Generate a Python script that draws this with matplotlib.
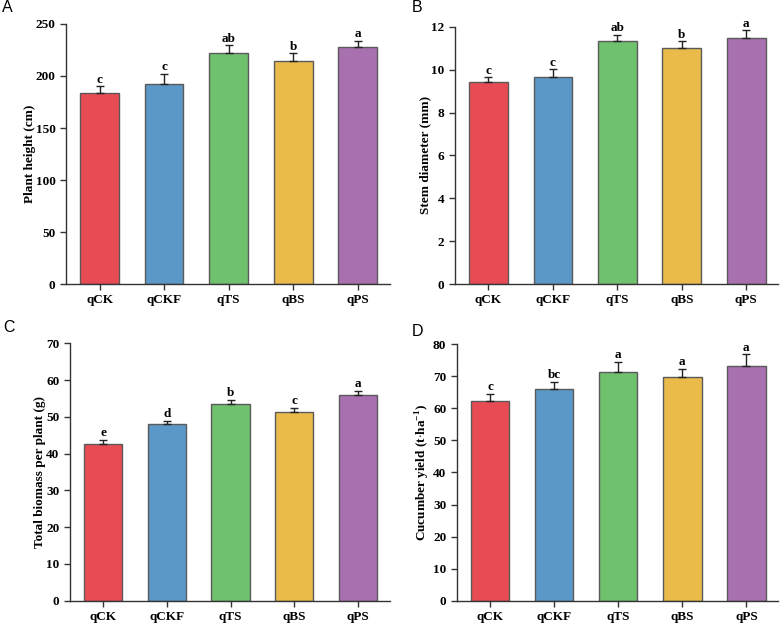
import numpy as np
import matplotlib.pyplot as plt

plt.rcParams['font.family'] = ['Liberation Serif', 'DejaVu Serif']
plt.rcParams['mathtext.fontset'] = 'custom'
plt.rcParams['mathtext.rm'] = 'Liberation Serif:bold'
plt.rcParams['mathtext.bf'] = 'Liberation Serif:bold'

groups = ['qCK', 'qCKF', 'qTS', 'qBS', 'qPS']
colors = ['#E84B53', '#5B98C7', '#70C16E', '#EABB4A', '#A970B0']

height = [184, 192.5, 222, 214, 227.5]
height_err = [6, 9.5, 7.5, 8, 6.5]
height_sig = ['c', 'c', 'ab', 'b', 'a']

stem = [9.44, 9.65, 11.32, 10.99, 11.5]
stem_err = [0.2, 0.36, 0.32, 0.33, 0.33]
stem_sig = ['c', 'c', 'ab', 'b', 'a']

biomass = [42.5, 48.0, 53.4, 51.2, 56.0]
biomass_err = [1.3, 1.0, 1.3, 1.2, 1.1]
biomass_sig = ['e', 'd', 'b', 'c', 'a']

yield_ = [62.3, 65.9, 71.5, 69.7, 73.2]
yield_err = [2.2, 2.4, 3.1, 2.6, 3.7]
yield_sig = ['c', 'bc', 'a', 'a', 'a']

panels = [
    ('A', height, height_err, height_sig, 'Plant height (cm)', 250, 50,
     [0.0846, 0.5441, 0.4154, 0.4174], (2, 8), 0),
    ('B', stem, stem_err, stem_sig, 'Stem diameter (mm)', 12, 2,
     [0.5833, 0.5441, 0.4147, 0.4129], (412, 7), 0),
    ('C', biomass, biomass_err, biomass_sig, 'Total biomass per plant (g)', 70, 10,
     [0.0897, 0.0358, 0.4103, 0.4132], (3, 327), 0),
    ('D', yield_, yield_err, yield_sig,
     r'Cucumber yield (t$\mathbf{\cdot}$ha$^{\mathbf{-1}}$)', 80, 10,
     [0.5855, 0.0358, 0.4125, 0.4116], (412, 331), 0.5),
]

fig = plt.figure(figsize=(7.8, 6.23), dpi=100)
x = np.arange(len(groups))

for letter, vals, errs, sig, ylab, ymax, step, pos, lpos, lpad in panels:
    ax = fig.add_axes(pos)
    ax.bar(x, vals, width=0.6, color=colors, edgecolor='#5a5a5a', linewidth=1, zorder=2)
    ax.errorbar(x, vals, yerr=[np.zeros(len(vals)), errs], fmt='none',
                ecolor='#222222', elinewidth=1, capsize=3.2, capthick=1, zorder=3)
    for xi, v, e, s in zip(x, vals, errs, sig):
        ax.text(xi, v + e + ymax * 0.002, s, ha='center', va='bottom',
                fontsize=9.5, fontweight='bold')
    ax.set_xlim(-0.52, 4.5)
    ax.set_ylim(0, ymax)
    ax.set_yticks(np.arange(0, ymax + step / 2, step))
    ax.set_xticks(x)
    ax.set_xticklabels(groups, fontsize=9.5, fontweight='bold')
    for lab in ax.get_yticklabels():
        lab.set_fontweight('bold')
        lab.set_fontsize(9.5)
    ax.set_ylabel(ylab, fontsize=9.5, fontweight='bold', labelpad=lpad)
    ax.spines['top'].set_visible(False)
    ax.spines['right'].set_visible(False)
    for side in ['left', 'bottom']:
        ax.spines[side].set_linewidth(1)
        ax.spines[side].set_color('#333333')
    ax.tick_params(direction='out', length=4, width=1, pad=3.5, color='#333333')
    fig.text(lpos[0] / 780, 1 - lpos[1] / 623, letter, fontsize=11.5,
             family='Liberation Sans', ha='left', va='center')

fig.savefig('out.png', dpi=100)
